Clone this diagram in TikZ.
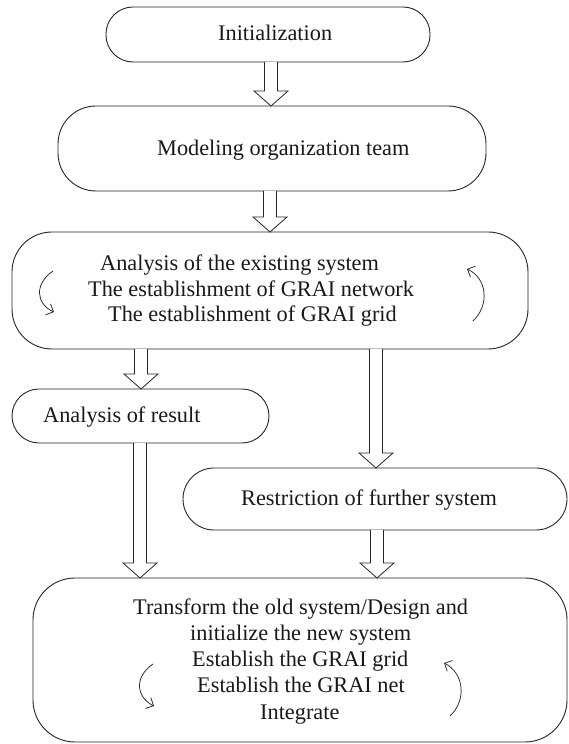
\documentclass[tikz,border=0pt]{standalone}
\usepackage{fontspec}
\setmainfont{Liberation Serif}
\usetikzlibrary{calc,arrows.meta}

\tikzset{
  stage/.style={draw=black!85, line width=0.9pt, fill=white, rectangle, outer sep=0pt, inner sep=0pt},
  caption/.style={anchor=base west, inner sep=0pt, font=\fontsize{22.3}{26}\selectfont, text=black!90},
  hollowarr/.style={draw=black!85, fill=white, line width=0.8pt, line join=miter},
  loop/.style={draw=black!85, line width=0.75pt, -{Straight Barb[length=6pt,width=12pt,line width=0.75pt]}}
}

% hollow block arrow going down at x = #1 from node #2 to node #3
\newcommand{\hollowdown}[3]{%
  \draw[hollowarr] let \p1=(#2.south), \p2=(#3.north) in
    ({#1pt-6.5pt},\y1) -- ({#1pt-6.5pt},{\y2+15pt}) -- ({#1pt-17pt},{\y2+15pt})
    -- ({#1pt},\y2) -- ({#1pt+17pt},{\y2+15pt}) -- ({#1pt+6.5pt},{\y2+15pt})
    -- ({#1pt+6.5pt},\y1);}

\begin{document}
\begin{tikzpicture}[x=1pt,y=1pt]
  \fill[white] (0,0) rectangle (569,744);
  \useasboundingbox (0,0) rectangle (569,744);

  % stages
  \node[stage, minimum width=324pt, minimum height=55pt, rounded corners=27pt] (init) at (268,709.5) {};
  \node[stage, minimum width=428pt, minimum height=85pt, rounded corners=38pt] (team) at (272,595.5) {};
  \node[stage, minimum width=516pt, minimum height=117pt, rounded corners=40pt] (exist) at (270,453.5) {};
  \node[stage, minimum width=257pt, minimum height=54pt, rounded corners=27pt] (result) at (140.5,328) {};
  \node[stage, minimum width=384pt, minimum height=62pt, rounded corners=31pt] (restrict) at (375,245) {};
  \node[stage, minimum width=534pt, minimum height=164pt, rounded corners=42pt] (newsys) at (300,84) {};

  % texts
  \node[caption] (tinit) at (218,703) {Initialization};
  \node[caption] (tteam) at (157,588) {Modeling organization team};
  \node[caption] (tex1) at (100,473) {Analysis of the existing system};
  \node[caption] (tex2) at (88,447) {The establishment of GRAI network};
  \node[caption] (tex3) at (108,422) {The establishment of GRAI grid};
  \node[caption] (tres) at (43,321) {Analysis of result};
  \node[caption] (tres2) at (241,238) {Restriction of further system};
  \node[caption] (tn1) at (133,129) {Transform the old system/Design and};
  \node[caption] (tn2) at (190,103) {initialize the new system};
  \node[caption] (tn3) at (192,77) {Establish the GRAI grid};
  \node[caption] (tn4) at (197,51) {Establish the GRAI net};
  \node[caption] (tn5) at (260,24) {Integrate};

  % block arrows between stages
  \hollowdown{271}{init}{team}
  \hollowdown{270}{team}{exist}
  \hollowdown{141}{exist}{result}
  \hollowdown{376}{exist}{restrict}
  \hollowdown{377}{restrict}{newsys}
  \hollowdown{140}{result}{newsys}

  % iteration loops
  \coordinate (l1a) at (53,473); \coordinate (l1b) at (54,432);
  \draw[loop] (l1a) .. controls (34,460) and (36,440) .. (l1b);
  \coordinate (r1a) at (473,423); \coordinate (r1b) at (467,475);
  \draw[loop] (r1a) .. controls (490,439) and (487,466) .. (r1b);
  \coordinate (l2a) at (153,80); \coordinate (l2b) at (154,38);
  \draw[loop] (l2a) .. controls (134,67) and (136,47) .. (l2b);
  \coordinate (r2a) at (450,28); \coordinate (r2b) at (444,81);
  \draw[loop] (r2a) .. controls (467,44) and (464,71) .. (r2b);
\end{tikzpicture}
\end{document}
